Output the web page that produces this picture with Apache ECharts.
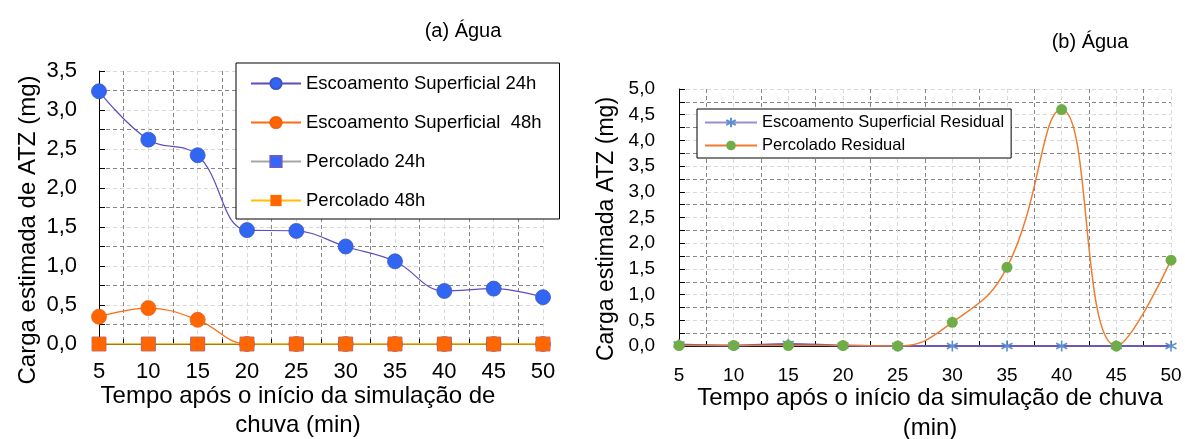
<!DOCTYPE html>
<html>
<head>
<meta charset="utf-8">
<script src="https://cdn.jsdelivr.net/npm/echarts@6/dist/echarts.min.js"></script>
<style>
  html, body { margin: 0; padding: 0; background: #fff; }
  #chart { width: 1185px; height: 439px; }
</style>
</head>
<body>
<div id="chart"></div>
<script>
// Time after start of simulated rainfall (min)
const minutes = [5, 10, 15, 20, 25, 30, 35, 40, 45, 50];

// (a) Água — estimated ATZ load (mg)
const escoamento24h = [3.24, 2.62, 2.42, 1.46, 1.45, 1.25, 1.06, 0.68, 0.71, 0.60];
const escoamento48h = [0.35, 0.46, 0.31, 0.00, 0.00, 0.00, 0.00, 0.00, 0.00, 0.00];
const percolado24h  = [0, 0, 0, 0, 0, 0, 0, 0, 0, 0];
const percolado48h  = [0, 0, 0, 0, 0, 0, 0, 0, 0, 0];

// (b) Água — residual loads (mg)
const escoamentoResidual = [0.03, 0.01, 0.04, 0.01, 0.00, 0.00, 0.00, 0.00, 0.00, 0.00];
const percoladoResidual  = [0.01, 0.01, 0.01, 0.01, 0.00, 0.46, 1.53, 4.60, 0.00, 1.67];

const FONT = '"Liberation Sans", Arial, sans-serif';
const LIGHT = '#d9d9d9';
const DARK = '#868686';

const pairs = (vals) => vals.map((v, i) => [minutes[i], v]);
const fmtX = (v) => (Math.abs(v % 5) < 1e-9 ? String(v) : '');
const fmtY = (v) => (Math.round(v * 100) % 50 === 0 ? v.toFixed(1).replace('.', ',') : '');

const ASTERISK = 'path://M0,-6L0,6M-5.2,-3L5.2,3M-5.2,3L5.2,-3';

function xAxisFor(gridIndex, fontSize, margin) {
  return {
    type: 'value', gridIndex, min: 5, max: 50, interval: 2.5,
    axisLine: { show: true, onZero: false, lineStyle: { color: '#000', width: 1 } },
    axisTick: { show: true, inside: true, length: 5, lineStyle: { color: '#000' } },
    axisLabel: { formatter: fmtX, color: '#000', fontSize, fontFamily: FONT, margin, showMinLabel: true, showMaxLabel: true },
    splitLine: { show: true, lineStyle: { color: [LIGHT, DARK], type: [4, 3], width: 1 } }
  };
}
function yAxisFor(gridIndex, max, fontSize, margin) {
  return {
    type: 'value', gridIndex, min: 0, max, interval: 0.25,
    axisLine: { show: true, lineStyle: { color: '#000', width: 1 } },
    axisTick: { show: true, inside: true, length: 6, lineStyle: { color: '#000' } },
    axisLabel: { formatter: fmtY, color: '#000', fontSize, fontFamily: FONT, margin, showMinLabel: true, showMaxLabel: true },
    splitLine: { show: true, lineStyle: { color: [LIGHT, DARK], type: [4, 3], width: 1 } }
  };
}

const chart = echarts.init(document.getElementById('chart'), null, { renderer: 'canvas' });

chart.setOption({
  animation: false,
  backgroundColor: '#fff',
  textStyle: { fontFamily: FONT },
  grid: [
    { left: 99, top: 71, width: 444, height: 273 },
    { left: 679, top: 89, width: 492, height: 257 }
  ],
  xAxis: [xAxisFor(0, 22, 17), xAxisFor(1, 19, 20)],
  yAxis: [yAxisFor(0, 3.5, 22, 22), yAxisFor(1, 5, 19, 24)],
  legend: [
    {
      left: 236, top: 63, orient: 'vertical',
      itemWidth: 50, itemHeight: 14, itemGap: 20,
      padding: [11, 18, 9, 14],
      borderColor: '#000', borderWidth: 1, backgroundColor: '#fff',
      textStyle: { fontSize: 18.5, color: '#000', fontFamily: FONT, lineHeight: 18 },
      data: ['Escoamento Superficial 24h', 'Escoamento Superficial  48h', 'Percolado 24h', 'Percolado 48h']
    },
    {
      left: 697, top: 109, orient: 'vertical',
      itemWidth: 52, itemHeight: 12, itemGap: 6,
      padding: [5, 7, 4, 7],
      borderColor: '#000', borderWidth: 1, backgroundColor: '#fff',
      textStyle: { fontSize: 16.5, color: '#000', fontFamily: FONT, lineHeight: 16 },
      data: [
        { name: 'Escoamento Superficial Residual', lineStyle: { color: '#9a8ed0' } },
        'Percolado Residual'
      ]
    }
  ],
  series: [
    {
      name: 'Escoamento Superficial 24h', type: 'line', xAxisIndex: 0, yAxisIndex: 0,
      data: pairs(escoamento24h), smooth: 0.4,
      symbol: 'circle', symbolSize: 15,
      lineStyle: { color: '#5a4fc2', width: 1.2 },
      itemStyle: { color: '#3166f2', borderColor: '#3d55c8', borderWidth: 0.8 }
    },
    {
      name: 'Escoamento Superficial  48h', type: 'line', xAxisIndex: 0, yAxisIndex: 0,
      data: pairs(escoamento48h), smooth: 0.4, clip: false,
      symbol: 'circle', symbolSize: 15,
      lineStyle: { color: '#ff6a10', width: 1.2 },
      itemStyle: { color: '#ff6600', borderColor: '#f06010', borderWidth: 0.8 }
    },
    {
      name: 'Percolado 24h', type: 'line', xAxisIndex: 0, yAxisIndex: 0,
      data: pairs(percolado24h), smooth: 0.4,
      symbol: 'rect', symbolSize: 14,
      lineStyle: { color: '#a6a6a6', width: 1.2 },
      itemStyle: { color: '#3366ff', borderColor: '#6b5bc8', borderWidth: 0.8 }
    },
    {
      name: 'Percolado 48h', type: 'line', xAxisIndex: 0, yAxisIndex: 0,
      data: pairs(percolado48h), smooth: 0.4,
      symbol: 'rect', symbolSize: 14,
      lineStyle: { color: '#ffc000', width: 1.5 },
      itemStyle: { color: '#ff6600' }
    },
    {
      name: 'Escoamento Superficial Residual', type: 'line', xAxisIndex: 1, yAxisIndex: 1,
      data: pairs(escoamentoResidual), smooth: 0.4,
      symbol: ASTERISK, symbolSize: 11,
      lineStyle: { color: '#6a5ab4', width: 2 },
      itemStyle: { color: 'rgba(0,0,0,0)', borderColor: '#5b8fd0', borderWidth: 1.6 }
    },
    {
      name: 'Percolado Residual', type: 'line', xAxisIndex: 1, yAxisIndex: 1,
      data: pairs(percoladoResidual), smooth: 0.45,
      symbol: 'circle', symbolSize: 11,
      lineStyle: { color: '#ed7d31', width: 1.5 },
      itemStyle: { color: '#70ad47' }
    }
  ],
  graphic: [
    { type: 'text', x: 463, y: 31, style: { text: '(a) Água', font: '20px ' + FONT, fill: '#000', align: 'center', verticalAlign: 'middle' } },
    { type: 'text', x: 1090, y: 42, style: { text: '(b) Água', font: '20px ' + FONT, fill: '#000', align: 'center', verticalAlign: 'middle' } },
    { type: 'text', x: 28, y: 230, rotation: Math.PI / 2, style: { text: 'Carga estimada de ATZ (mg)', font: '24px ' + FONT, fill: '#000', align: 'center', verticalAlign: 'middle' } },
    { type: 'text', x: 607, y: 229, rotation: Math.PI / 2, style: { text: 'Carga estimada ATZ (mg)', font: '23px ' + FONT, fill: '#000', align: 'center', verticalAlign: 'middle' } },
    { type: 'text', x: 298, y: 396, style: { text: 'Tempo após o início da simulação de', font: '24px ' + FONT, fill: '#000', align: 'center', verticalAlign: 'middle' } },
    { type: 'text', x: 298, y: 425, style: { text: 'chuva (min)', font: '24px ' + FONT, fill: '#000', align: 'center', verticalAlign: 'middle' } },
    { type: 'text', x: 930, y: 398, style: { text: 'Tempo após o início da simulação de chuva', font: '24px ' + FONT, fill: '#000', align: 'center', verticalAlign: 'middle' } },
    { type: 'text', x: 930, y: 428, style: { text: '(min)', font: '24px ' + FONT, fill: '#000', align: 'center', verticalAlign: 'middle' } }
  ]
});
</script>
</body>
</html>
